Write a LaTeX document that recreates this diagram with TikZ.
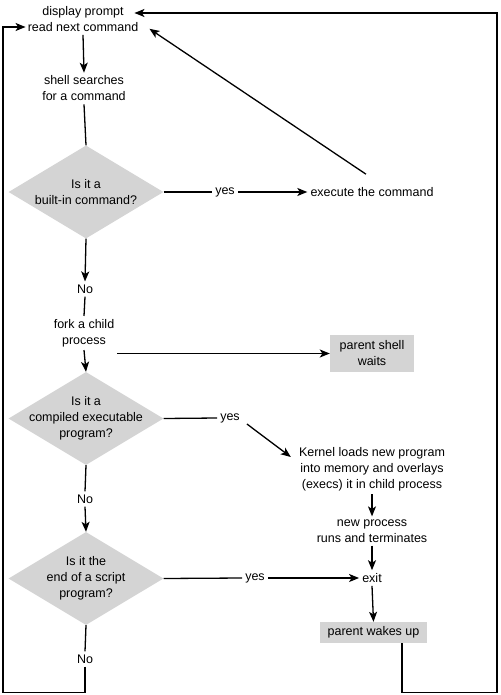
\documentclass[tikz,border=0pt]{standalone}
\usepackage{fontspec}
\setmainfont{Liberation Sans}
\usetikzlibrary{shapes.geometric,arrows.meta}
\definecolor{boxgray}{HTML}{D4D4D4}
\begin{document}
\begin{tikzpicture}[x=1pt,y=-1pt,
  every node/.style={font=\fontsize{12.5}{16}\selectfont, align=center, inner sep=3pt},
  txt/.style={},
  dia/.style={diamond, fill=boxgray, inner sep=0pt, minimum width=155pt, minimum height=93pt},
  gbox/.style={rectangle, fill=boxgray, inner sep=0pt},
  ln/.style={line width=1.3pt},
  arr/.style={line width=1.3pt, -{Stealth[length=10pt,width=8pt,inset=2.5pt]}}]
\useasboundingbox (0,0) rectangle (500,695);
% nodes
\node[txt] (cmd) at (83,19) {display prompt\\read next command};
\node[txt] (search) at (84,88.5) {shell searches\\for a command};
\node[dia] (d1) at (86,192) {};
\node[txt] at (d1) {Is it a\\built-in command?};
\node[txt] (yes1) at (225,192) {yes};
\node[txt] (exec) at (372,192) {execute the command};
\node[txt] (no1) at (85,289) {No};
\node[txt] (fork) at (84,333) {fork a child\\process};
\node[gbox, minimum width=84pt, minimum height=37pt] (waits) at (372,353.5) {parent shell\\waits};
\node[dia] (d2) at (86,418.5) {};
\node[txt] at (d2) {Is it a\\compiled executable\\program?};
\node[txt] (yes2) at (230,418) {yes};
\node[txt] (kernel) at (372,469) {Kernel loads new program\\into memory and overlays\\(execs) it in child process};
\node[txt] (no2) at (85,499) {No};
\node[txt] (newp) at (372,531) {new process\\runs and terminates};
\node[dia] (d3) at (86,578.5) {};
\node[txt] at (d3) {Is it the\\end of a script\\program?};
\node[txt] (yes3) at (255,578) {yes};
\node[txt] (exit) at (372,578) {exit};
\node[gbox, minimum width=107pt, minimum height=21pt] (wake) at (373.5,632.5) {parent wakes up};
\node[txt] (no3) at (85,659) {No};
\coordinate (lb) at (3,692.5);
\coordinate (rb) at (497,692.5);
\coordinate (rt) at (497,13);
% connectors
\draw[arr] (cmd.south) -- (search.north);
\draw[ln] (search.south) -- (d1.north);
\draw[ln] (d1.east) -- (yes1.west);
\draw[arr] (yes1.east) -- (exec.west);
\draw[arr] ([shift={(-6,-10)}]exec.north) -- ([shift={(8,-6)}]cmd.south east);
\draw[arr] (d1.south) -- (no1.north);
\draw[ln] (no1.south) -- (fork.north);
\draw[arr] (fork.south) -- (d2.north);
\draw[arr] (fork.south east |- waits.west) -- (waits.west);
\draw[ln] (d2.east) -- (yes2.west);
\draw[arr] ([shift={(4,6)}]yes2.east) -- ([shift={(-5,-12)}]kernel.west);
\draw[ln] (d2.south) -- (no2.north);
\draw[arr] (no2.south) -- (d3.north);
\draw[arr] (kernel.south) -- (newp.north);
\draw[arr] (newp.south) -- (exit.north);
\draw[ln] (d3.east) -- (yes3.west);
\draw[arr] (yes3.east) -- (exit.west);
\draw[arr] (exit.south) -- (wake.north);
\draw[ln] (d3.south) -- (no3.north);
\draw[arr] (no3.south) |- (lb) -- (3,27) -- ([shift={(1,8)}]cmd.west);
\draw[arr] ([xshift=28.5pt]wake.south) |- (rb) -- (rt) -- ([shift={(-7,-6)}]cmd.east);
\end{tikzpicture}
\end{document}
